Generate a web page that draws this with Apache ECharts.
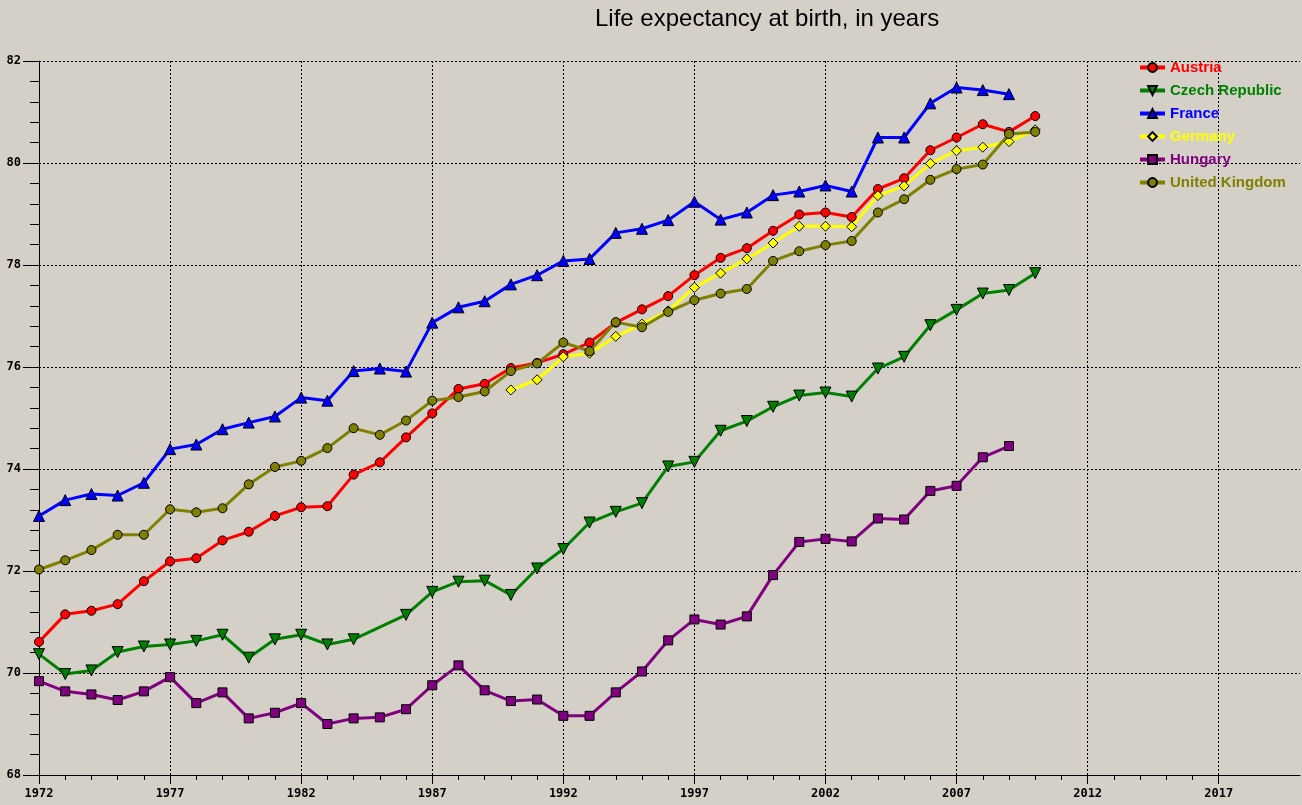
<!DOCTYPE html>
<html>
<head>
<meta charset="utf-8">
<script src="https://cdn.jsdelivr.net/npm/echarts@6/dist/echarts.min.js"></script>
<style>
html,body{margin:0;padding:0;background:#D4D0C8;}
#chart{width:1302px;height:805px;}
</style>
</head>
<body>
<div id="chart"></div>
<script>
// ---- data ----
var years = [1972,1973,1974,1975,1976,1977,1978,1979,1980,1981,
             1982,1983,1984,1985,1986,1987,1988,1989,1990,1991,
             1992,1993,1994,1995,1996,1997,1998,1999,2000,2001,
             2002,2003,2004,2005,2006,2007,2008,2009,2010];
var majorYearTicks = [1972,1977,1982,1987,1992,1997,2002,2007,2012,2017];
var minorYearTicks = [1973,1974,1975,1976,1978,1979,1980,1981,1983,1984,1985,1986,
                      1988,1989,1990,1991,1993,1994,1995,1996,1998,1999,2000,2001,
                      2003,2004,2005,2006,2008,2009,2010,2011,2013,2014,2015,2016];
var seriesNames = ['Austria','Czech Republic','France','Germany','Hungary','United Kingdom'];

var austria = [70.61,71.15,71.22,71.35,71.80,72.19,72.25,72.60,72.77,73.08,
               73.25,73.27,73.89,74.13,74.62,75.09,75.57,75.67,75.98,76.08,
               76.25,76.48,76.87,77.13,77.39,77.80,78.14,78.33,78.67,78.99,
               79.03,78.94,79.49,79.70,80.25,80.50,80.76,80.61,80.92];
var czech = [70.37,69.98,70.05,70.41,70.52,70.56,70.63,70.75,70.30,70.66,
             70.75,70.56,70.66,null,71.14,71.59,71.79,71.81,71.53,72.05,
             72.43,72.95,73.16,73.33,74.05,74.14,74.75,74.94,75.22,75.44,
             75.50,75.42,75.97,76.20,76.82,77.12,77.44,77.51,77.84];
var france = [73.08,73.39,73.51,73.48,73.73,74.39,74.48,74.78,74.91,75.03,
              75.40,75.34,75.92,75.97,75.91,76.87,77.17,77.29,77.62,77.80,
              78.08,78.12,78.63,78.71,78.88,79.24,78.89,79.03,79.37,79.44,
              79.56,79.44,80.50,80.50,81.17,81.48,81.43,81.35,null];
var germany = [null,null,null,null,null,null,null,null,null,null,
               null,null,null,null,null,null,null,null,75.55,75.75,
               76.20,76.27,76.60,76.84,77.10,77.56,77.84,78.12,78.43,78.76,
               78.76,78.75,79.36,79.55,79.99,80.24,80.31,80.42,80.65];
var hungary = [69.84,69.64,69.58,69.47,69.64,69.92,69.41,69.62,69.11,69.22,
               69.41,69.00,69.11,69.13,69.29,69.76,70.15,69.66,69.45,69.48,
               69.16,69.16,69.62,70.03,70.64,71.05,70.95,71.11,71.92,72.57,
               72.63,72.58,73.03,73.01,73.57,73.67,74.23,74.45,null];
var uk = [72.03,72.21,72.41,72.71,72.71,73.21,73.15,73.23,73.70,74.04,
          74.16,74.41,74.80,74.67,74.95,75.34,75.41,75.52,75.92,76.07,
          76.48,76.31,76.88,76.78,77.08,77.31,77.44,77.53,78.08,78.27,
          78.39,78.47,79.03,79.29,79.67,79.88,79.97,80.57,80.61];

// ---- styles ----
var colors = ['#FF0000','#008000','#0000FF','#FFFF00','#800080','#808000'];
var symbols = ['circle','triangle','triangle','diamond','rect','circle'];
var symbolSizes = [9,11,11,10,9,9];
var symbolRotates = [0,180,0,0,0,0];
var values = [austria,czech,france,germany,hungary,uk];

function pairs(arr){
  return years.map(function(y,i){ return [y, arr[i]]; });
}

var series = seriesNames.map(function(name,i){
  return {
    name: name,
    type: 'line',
    xAxisIndex: 0,
    yAxisIndex: 0,
    data: pairs(values[i]),
    connectNulls: true,
    symbol: symbols[i],
    symbolSize: symbolSizes[i],
    symbolRotate: symbolRotates[i],
    showAllSymbol: true,
    lineStyle: {color: colors[i], width: 3},
    itemStyle: {color: colors[i], borderColor: '#000', borderWidth: 1},
    emphasis: {disabled: true},
    animation: false
  };
});

var chart = echarts.init(document.getElementById('chart'), null, {renderer:'canvas'});
var monoFont = '"DejaVu Sans Mono", monospace';
chart.setOption({
  backgroundColor: '#D4D0C8',
  animation: false,
  color: colors,
  title: {
    text: 'Life expectancy at birth, in years',
    left: 590, top: 2,
    textStyle: {fontFamily: '"Liberation Sans", Arial, sans-serif', fontSize: 24, fontWeight: 'normal', color: '#000'}
  },
  legend: {
    orient: 'vertical',
    left: 1133, top: 55,
    itemWidth: 25, itemHeight: 11, itemGap: 8,
    lineStyle: {width: 4},
    textStyle: {fontFamily: '"Liberation Sans", Arial, sans-serif', fontSize: 15, fontWeight: 'bold'},
    data: seriesNames.map(function(n,i){ return {name: n, textStyle: {color: colors[i]}}; })
  },
  grid: {left: 39, right: 2, top: 61, bottom: 30, containLabel: false},
  xAxis: [{
    type: 'value',
    min: 1972, max: 2020.1,
    position: 'bottom',
    axisLine: {show: true, lineStyle: {color: '#000', width: 1}},
    axisTick: {show: true, length: 9, customValues: majorYearTicks, lineStyle: {color: '#000', width: 1}},
    axisLabel: {customValues: majorYearTicks, formatter: function(v){ return String(v); }, color: '#000', fontFamily: monoFont, fontWeight: 'bold', fontSize: 12, margin: 13},
    splitLine: {show: true, lineStyle: {color: '#000', type: [2,2], width: 1}},
    minorTick: {show: false}
  },{
    type: 'value',
    min: 1972, max: 2020.1,
    position: 'bottom',
    axisLine: {show: false},
    axisTick: {show: true, length: 5, customValues: minorYearTicks, lineStyle: {color: '#000', width: 1}},
    axisLabel: {show: false},
    splitLine: {show: false}
  }],
  yAxis: {
    type: 'value',
    min: 68, max: 82, interval: 2,
    axisLine: {show: true, lineStyle: {color: '#000', width: 1}},
    axisTick: {show: true, length: 16, lineStyle: {color: '#000', width: 1}},
    minorTick: {show: true, splitNumber: 5, length: 9, lineStyle: {color: '#000', width: 1}},
    axisLabel: {color: '#000', fontFamily: monoFont, fontWeight: 'bold', fontSize: 12, margin: 18},
    splitLine: {show: true, lineStyle: {color: '#000', type: [2,2], width: 1}}
  },
  series: series
});
</script>
</body>
</html>
